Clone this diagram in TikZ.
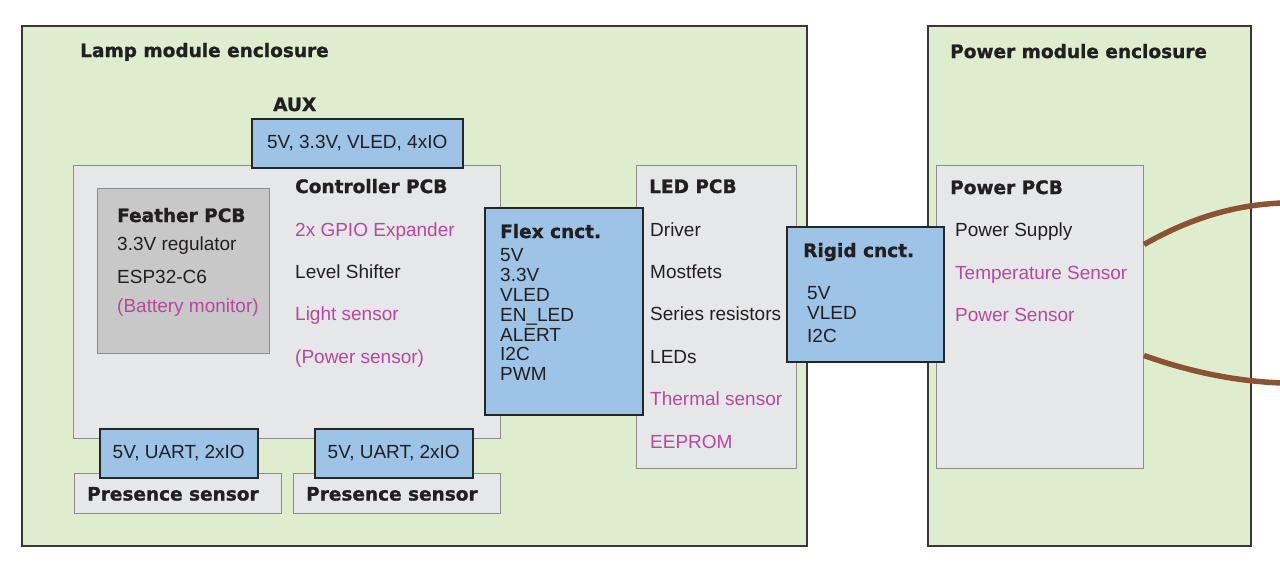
\documentclass[tikz,border=0pt]{standalone}
\usepackage{fontspec}
\setmainfont{Liberation Sans}
\newfontfamily\heavyfont{DejaVu Sans}[BoldFeatures={FakeBold=1.2}]

\definecolor{encgreen}{HTML}{DDEDCE}
\definecolor{pcbgray}{HTML}{E6E7E8}
\definecolor{feathergray}{HTML}{C8C8C8}
\definecolor{cnctblue}{HTML}{9DC3E6}
\definecolor{optmagenta}{HTML}{B8479E}
\definecolor{cablebrown}{HTML}{8B5233}
\definecolor{inkblack}{HTML}{231F20}

\begin{document}
\begin{tikzpicture}[x=1pt, y=-1pt,
    enclosure/.style={draw=black!78, line width=1.5pt, fill=encgreen, anchor=north west, inner sep=0pt},
    pcb/.style={draw=black!45, line width=1pt, fill=pcbgray, anchor=north west, inner sep=0pt},
    feather/.style={pcb, fill=feathergray},
    cnct/.style={draw=black!85, line width=1.5pt, fill=cnctblue, anchor=north west, inner sep=0pt,
      text=inkblack, font=\fontsize{19}{20}\selectfont},
    title/.style={anchor=base west, inner sep=0pt, text=inkblack, font=\heavyfont\bfseries\fontsize{18.5}{20}\selectfont},
    item/.style={anchor=base west, inner sep=0pt, text=inkblack, font=\fontsize{19}{20}\selectfont},
    opt/.style={item, text=optmagenta},
    cable/.style={draw=cablebrown, line width=5.5pt}]
  \useasboundingbox (0,0) rectangle (1280,574);
  % ---------------- enclosures ----------------
  \node[enclosure, minimum width=785, minimum height=520] (lampenc) at (21,25) {};
  \node[enclosure, minimum width=323, minimum height=520] (pwrenc) at (927,25) {};
  \node[title] (lamptitle) at (80,57) {Lamp module enclosure};
  \node[title] (pwrtitle) at (950,58) {Power module enclosure};
  % ---------------- controller PCB ----------------
  \node[pcb, minimum width=427, minimum height=273] (ctrl) at (73,165) {};
  \node[title] (ctrltitle) at (295,193) {Controller PCB};
  \foreach \txt/\sty [count=\i] in {2x GPIO Expander/opt, Level Shifter/item,
      Light sensor/opt, (Power sensor)/opt}
    \node[\sty] (ctrl\i) at (295,193.6+42.4*\i) {\txt};
  % feather board
  \node[feather, minimum width=172, minimum height=165] (feather) at (97,188) {};
  \node[title] (feathertitle) at (117,222) {Feather PCB};
  \node[item] (feather1) at (117,250) {3.3V regulator};
  \node[item] (feather2) at (117,283) {ESP32-C6};
  \node[opt] (feather3) at (117,312) {(Battery monitor)};
  % aux connector
  \node[title] (auxtitle) at (273,111) {AUX};
  \node[cnct, minimum width=211, minimum height=49] (aux) at (251,118) {5V, 3.3V, VLED, 4xIO};
  % ---------------- presence sensors ----------------
  \node[pcb, minimum width=207, minimum height=40] (pres1) at (74,473) {};
  \node[pcb, minimum width=207, minimum height=40] (pres2) at (293,473) {};
  \node[title] (pres1title) at (87,500.5) {Presence sensor};
  \node[title] (pres2title) at (306,500.5) {Presence sensor};
  \node[cnct, minimum width=158, minimum height=49] (uart1) at (99,428) {5V, UART, 2xIO};
  \node[cnct, minimum width=158, minimum height=49] (uart2) at (314,428) {5V, UART, 2xIO};
  % ---------------- LED PCB ----------------
  \node[pcb, minimum width=160, minimum height=303] (led) at (636,165) {};
  \node[title] (ledtitle) at (649,193) {LED PCB};
  \foreach \txt/\sty [count=\i] in {Driver/item, Mostfets/item, Series resistors/item,
      LEDs/item, Thermal sensor/opt, EEPROM/opt}
    \node[\sty] (led\i) at (650,193.6+42.4*\i) {\txt};
  % flex connector
  \node[cnct, minimum width=158, minimum height=207] (flex) at (484,207) {};
  \node[title] (flextitle) at (500,238) {Flex cnct.};
  \foreach \txt [count=\i] in {5V, 3.3V, VLED, EN\_LED, ALERT, I2C, PWM}
    \node[item] (flex\i) at (500,242+19.8*\i) {\txt};
  % ---------------- power PCB ----------------
  \node[pcb, minimum width=207, minimum height=303] (pwrpcb) at (936,165) {};
  \node[title] (pwrpcbtitle) at (950,194) {Power PCB};
  \node[item] (pwr1) at (955,236) {Power Supply};
  \node[opt] (pwr2) at (955,279) {Temperature Sensor};
  \node[opt] (pwr3) at (955,321) {Power Sensor};
  % rigid connector
  \node[cnct, minimum width=157, minimum height=135] (rigid) at (786,226) {};
  \node[title] (rigidtitle) at (803,257) {Rigid cnct.};
  \node[item] (rigid1) at (807,299) {5V};
  \node[item] (rigid2) at (807,319) {VLED};
  \node[item] (rigid3) at (807,342) {I2C};
  % ---------------- cables ----------------
  \coordinate (cabletop) at (1282,203);
  \coordinate (cablebot) at (1282,383);
  \draw[cable] ([yshift=72.5]pwrpcb.east) .. controls (1185,221) and (1230,205) .. (cabletop);
  \draw[cable] ([yshift=-38.5]pwrpcb.east) .. controls (1185,370) and (1230,381) .. (cablebot);
\end{tikzpicture}
\end{document}
